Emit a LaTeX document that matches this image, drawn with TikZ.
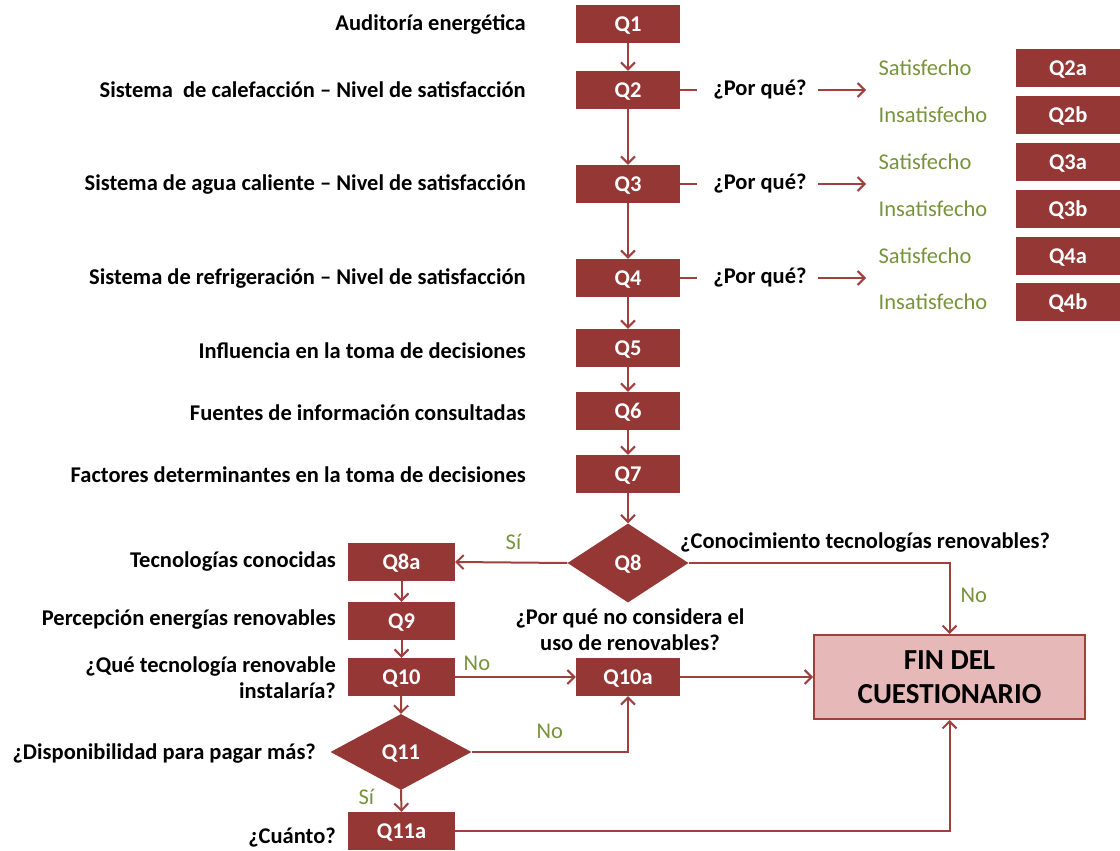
\documentclass[tikz,border=0pt]{standalone}
\usepackage{fontspec}
\setmainfont{Carlito}
\usetikzlibrary{shapes.geometric,arrows.meta}
\definecolor{boxred}{HTML}{953735}
\definecolor{linered}{HTML}{A0403E}
\definecolor{lblgreen}{HTML}{77933C}
\definecolor{finfill}{HTML}{E6B9B8}
\tikzset{
  qbox/.style={fill=boxred, text=white, font=\fontsize{22.5}{24}\selectfont\bfseries, minimum width=104pt, minimum height=38pt, inner sep=0pt, text depth=0pt},
  qdia/.style={diamond, fill=boxred, text=white, font=\fontsize{22.5}{24}\selectfont\bfseries, minimum width=#1, minimum height=79pt, inner sep=0pt, text depth=0pt},
  lbl/.style={font=\fontsize{22.5}{26}\selectfont\bfseries, inner sep=0pt},
  glbl/.style={text=lblgreen, font=\fontsize{22.5}{26}\selectfont, inner sep=0pt},
  conn/.style={draw=linered, line width=2pt},
  arr/.style={conn, -{Straight Barb[length=7pt,width=14pt,line width=2pt]}},
}
\begin{document}
\begin{tikzpicture}[x=1pt,y=-1pt]
\useasboundingbox (0,0) rectangle (1120,851);
% main column
\node[qbox] (q1) at (628,24) {Q1};
\node[qbox] (q2) at (628,90) {Q2};
\node[qbox] (q3) at (628,184) {Q3};
\node[qbox] (q4) at (628,278) {Q4};
\node[qbox] (q5) at (628,348) {Q5};
\node[qbox] (q6) at (628,411) {Q6};
\node[qbox] (q7) at (628,474) {Q7};
\node[qdia=121pt] (q8) at (628,563) {Q8};
\node[qbox, minimum width=107pt] (q8a) at (401.5,562) {Q8a};
\node[qbox, minimum width=107pt] (q9) at (401.5,621) {Q9};
\node[qbox, minimum width=107pt] (q10) at (401.5,677) {Q10};
\node[qdia=141pt, minimum height=76pt] (q11) at (401,752) {Q11};
\node[qbox, minimum width=107pt] (q11a) at (401.5,831) {Q11a};
\node[qbox] (q10a) at (628,677) {Q10a};
\node[draw=linered, line width=2pt, fill=finfill, minimum width=271pt, minimum height=84pt, align=center, font=\fontsize{29}{34}\selectfont\bfseries] (fin) at (949.5,677) {FIN DEL\\CUESTIONARIO};
% right boxes
\node[qbox] (q2a) at (1068,68) {Q2a};
\node[qbox] (q2b) at (1068,115) {Q2b};
\node[qbox] (q3a) at (1068,162) {Q3a};
\node[qbox] (q3b) at (1068,209) {Q3b};
\node[qbox] (q4a) at (1068,256) {Q4a};
\node[qbox] (q4b) at (1068,302) {Q4b};
\node[glbl] (s2) at (925,68) {Satisfecho};
\node[glbl] (i2) at (933,115) {Insatisfecho};
\node[glbl] (s3) at (925,162) {Satisfecho};
\node[glbl] (i3) at (933,209) {Insatisfecho};
\node[glbl] (s4) at (925,256) {Satisfecho};
\node[glbl] (i4) at (933,302) {Insatisfecho};
% left labels
\node[lbl, anchor=east] (t1) at (526,24) {Auditoría energética};
\node[lbl, anchor=east] (t2) at (526,90) {Sistema\ \ de calefacción – Nivel de satisfacción};
\node[lbl, anchor=east] (t3) at (526,184) {Sistema de agua caliente – Nivel de satisfacción};
\node[lbl, anchor=east] (t4) at (526,278) {Sistema de refrigeración – Nivel de satisfacción};
\node[lbl, anchor=east] (t5) at (526,351) {Influencia en la toma de decisiones};
\node[lbl, anchor=east] (t6) at (526,413) {Fuentes de información consultadas};
\node[lbl, anchor=east] (t7) at (526,475) {Factores determinantes en la toma de decisiones};
\node[lbl, anchor=east] (t8a) at (336,562) {Tecnologías conocidas};
\node[lbl, anchor=east] (t9) at (336,620) {Percepción energías renovables};
\node[lbl, anchor=east, align=right] (t10) at (336,678) {¿Qué tecnología renovable\\instalaría?};
\node[lbl, anchor=east] (t11) at (316,754) {¿Disponibilidad para pagar más?};
\node[lbl, anchor=east] (t11a) at (336,838) {¿Cuánto?};
\node[lbl, anchor=west] (t8) at (680,543) {¿Conocimiento tecnologías renovables?};
\node[lbl, align=center] (t10a) at (630,630) {¿Por qué no considera el\\uso de renovables?};
% por qué
\node[lbl] (pq2) at (760,90) {¿Por qué?};
\node[lbl] (pq3) at (760,184) {¿Por qué?};
\node[lbl] (pq4) at (760,278) {¿Por qué?};
\coordinate (e2) at (866,90);
\coordinate (e3) at (866,184);
\coordinate (e4) at (866,278);
\draw[conn] (q2.east) -- ++(17,0);
\draw[conn] (q3.east) -- ++(17,0);
\draw[conn] (q4.east) -- ++(17,0);
\draw[arr] (818,90) -- (e2);
\draw[arr] (818,184) -- (e3);
\draw[arr] (818,278) -- (e4);
% vertical chain
\draw[arr] (q1) -- (q2);
\draw[arr] (q2) -- (q3);
\draw[arr] (q3) -- (q4);
\draw[arr] (q4) -- (q5);
\draw[arr] (q5) -- (q6);
\draw[arr] (q6) -- (q7);
\draw[arr] (q7) -- (q8.north);
\draw[arr] (q8.west) -- node[glbl, above=12pt, pos=0.48] {Sí} (q8a.east);
\draw[arr] (q8.east) -| node[glbl, pos=0.73, right=10pt] {No} (fin.north);
\draw[arr] (q8a) -- (q9);
\draw[arr] (q9) -- (q10);
\draw[arr] (q10) -- (q11.north);
\draw[arr] (q10.east) -- node[glbl, pos=0.18, above=5pt] {No} (q10a.west);
\draw[arr] (q11.east) -| node[glbl, pos=0.25, above=12pt] {No} (q10a.south);
\draw[arr] (q11.south) -- node[glbl, pos=0.3, left=26pt] {Sí} (q11a.north);
\draw[arr] (q10a.east) -- (fin.west);
\draw[arr] (q11a.east) -| (fin.south);
\end{tikzpicture}
\end{document}
